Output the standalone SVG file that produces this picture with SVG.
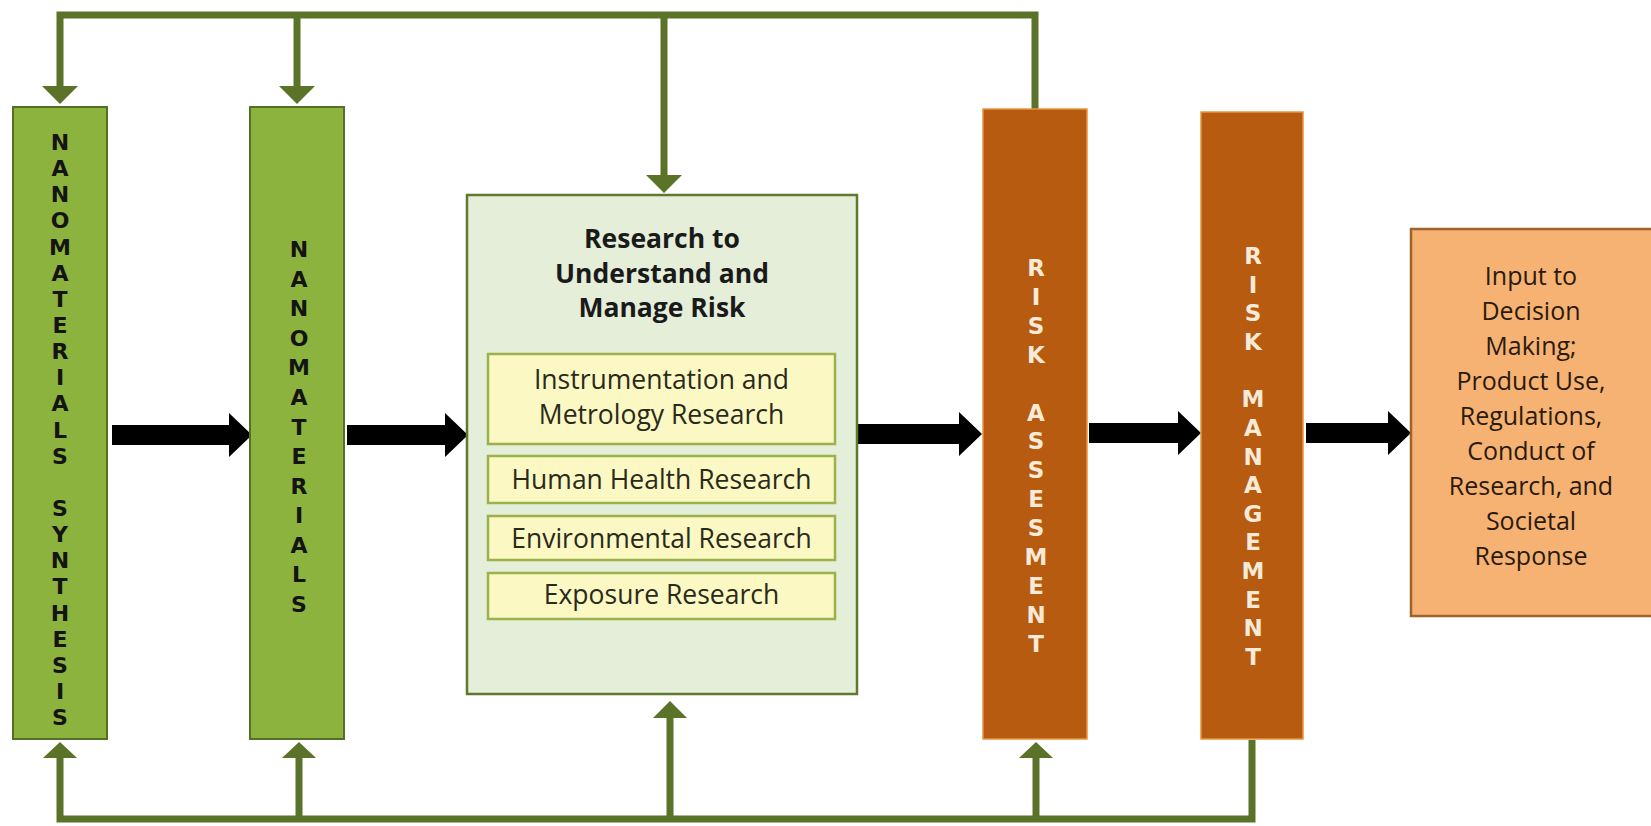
<svg xmlns="http://www.w3.org/2000/svg" width="1651" height="826" viewBox="0 0 1651 826">
<style>
.fb{fill:none;stroke:#5b7229;stroke-width:7;stroke-linejoin:miter}
.fbh{fill:#5b7229}
.blk{fill:#000}
.gbox{fill:#8cb33e;stroke:#556f26;stroke-width:2}
.gtxt{font-family:"DejaVu Sans",sans-serif;font-weight:bold;font-size:22px;fill:#141414;text-anchor:middle}
.obox{fill:#b65b0f;stroke:#e8943f;stroke-width:1.5}
.otxt{font-family:"DejaVu Sans",sans-serif;font-weight:bold;font-size:23px;fill:#f8ead8;text-anchor:middle}
.rbox{fill:#e4eed8;stroke:#5f7a30;stroke-width:2.5}
.sbox{fill:#fbf8c4;stroke:#9bb14b;stroke-width:2.5}
.title{font-family:"Open Sans",sans-serif;font-weight:bold;font-size:26.5px;fill:#1a1a1a;text-anchor:middle}
.sub{font-family:"Open Sans",sans-serif;font-size:26.5px;fill:#2a2a1a;text-anchor:middle}
.outbox{fill:#f5b273;stroke:#a0622a;stroke-width:2.5}
.outtxt{font-family:"Open Sans",sans-serif;font-size:25px;fill:#2b1a0c;text-anchor:middle}
</style>
<rect width="1651" height="826" fill="#ffffff"/>

<g id="connectors">
  <path class="fb" d="M60,88 V15 H1035 V109"/>
  <path class="fb" d="M297,15 V88"/>
  <path class="fb" d="M664,15 V177"/>
  <polygon class="fbh" points="42,86 78,86 60,104"/>
  <polygon class="fbh" points="279,86 315,86 297,104"/>
  <polygon class="fbh" points="646,175 682,175 664,193"/>
  <path class="fb" d="M60,756 V819 H1252 V740"/>
  <path class="fb" d="M299,819 V756"/>
  <path class="fb" d="M670,819 V716"/>
  <path class="fb" d="M1036,819 V756"/>
  <polygon class="fbh" points="43,758 77,758 60,742"/>
  <polygon class="fbh" points="282,758 316,758 299,742"/>
  <polygon class="fbh" points="653,718 687,718 670,701"/>
  <polygon class="fbh" points="1019,758 1053,758 1036,742"/>
  <polygon class="blk" points="112,425 229,425 229,413 252,435 229,457 229,445 112,445"/>
  <polygon class="blk" points="347,425 445,425 445,413 468,435 445,457 445,445 347,445"/>
  <polygon class="blk" points="858,424 959,424 959,412 982,434 959,456 959,444 858,444"/>
  <polygon class="blk" points="1089,423 1178,423 1178,411 1201,433 1178,455 1178,443 1089,443"/>
  <polygon class="blk" points="1306,423 1388,423 1388,411 1411,433 1388,455 1388,443 1306,443"/>
</g>

<g id="nanomaterials-synthesis">
  <rect class="gbox" x="13" y="107" width="94" height="632"/>
  <text class="gtxt"><tspan x="60" y="150">N</tspan><tspan x="60" y="176.1">A</tspan><tspan x="60" y="202.3">N</tspan><tspan x="60" y="228.4">O</tspan><tspan x="60" y="254.6">M</tspan><tspan x="60" y="280.7">A</tspan><tspan x="60" y="306.8">T</tspan><tspan x="60" y="333">E</tspan><tspan x="60" y="359.1">R</tspan><tspan x="60" y="385.3">I</tspan><tspan x="60" y="411.4">A</tspan><tspan x="60" y="437.5">L</tspan><tspan x="60" y="463.7">S</tspan><tspan x="60" y="516">S</tspan><tspan x="60" y="542.1">Y</tspan><tspan x="60" y="568.2">N</tspan><tspan x="60" y="594.4">T</tspan><tspan x="60" y="620.5">H</tspan><tspan x="60" y="646.7">E</tspan><tspan x="60" y="672.8">S</tspan><tspan x="60" y="698.9">I</tspan><tspan x="60" y="725">S</tspan></text>
</g>

<g id="nanomaterials">
  <rect class="gbox" x="250" y="107" width="94" height="632"/>
  <text class="gtxt"><tspan x="299" y="257">N</tspan><tspan x="299" y="286.6">A</tspan><tspan x="299" y="316.2">N</tspan><tspan x="299" y="345.7">O</tspan><tspan x="299" y="375.3">M</tspan><tspan x="299" y="404.9">A</tspan><tspan x="299" y="434.5">T</tspan><tspan x="299" y="464.1">E</tspan><tspan x="299" y="493.7">R</tspan><tspan x="299" y="523.2">I</tspan><tspan x="299" y="552.8">A</tspan><tspan x="299" y="582.4">L</tspan><tspan x="299" y="612">S</tspan></text>
</g>

<g id="research">
  <rect class="rbox" x="467" y="195" width="390" height="499"/>
  <text class="title"><tspan x="662" y="248">Research to</tspan><tspan x="662" y="283">Understand and</tspan><tspan x="662" y="317">Manage Risk</tspan></text>
  <g id="instrumentation">
    <rect class="sbox" x="488" y="354" width="347" height="90"/>
    <text class="sub"><tspan x="661.5" y="389">Instrumentation and</tspan><tspan x="661.5" y="424">Metrology Research</tspan></text>
  </g>
  <g id="human-health">
    <rect class="sbox" x="488" y="456" width="347" height="47"/>
    <text class="sub" x="661.5" y="489">Human Health Research</text>
  </g>
  <g id="environmental">
    <rect class="sbox" x="488" y="516" width="347" height="44"/>
    <text class="sub" x="661.5" y="548">Environmental Research</text>
  </g>
  <g id="exposure">
    <rect class="sbox" x="488" y="573" width="347" height="46"/>
    <text class="sub" x="661.5" y="604">Exposure Research</text>
  </g>
</g>

<g id="risk-assessment">
  <rect class="obox" x="983" y="109" width="104" height="630"/>
  <text class="otxt"><tspan x="1036" y="276">R</tspan><tspan x="1036" y="304.9">I</tspan><tspan x="1036" y="333.8">S</tspan><tspan x="1036" y="362.7">K</tspan><tspan x="1036" y="420.5">A</tspan><tspan x="1036" y="449.4">S</tspan><tspan x="1036" y="478.3">S</tspan><tspan x="1036" y="507.2">E</tspan><tspan x="1036" y="536.1">S</tspan><tspan x="1036" y="565">M</tspan><tspan x="1036" y="593.9">E</tspan><tspan x="1036" y="622.8">N</tspan><tspan x="1036" y="651.7">T</tspan></text>
</g>

<g id="risk-management">
  <rect class="obox" x="1201" y="112" width="102" height="627"/>
  <text class="otxt"><tspan x="1253" y="264">R</tspan><tspan x="1253" y="292.6">I</tspan><tspan x="1253" y="321.3">S</tspan><tspan x="1253" y="349.9">K</tspan><tspan x="1253" y="407.2">M</tspan><tspan x="1253" y="435.8">A</tspan><tspan x="1253" y="464.5">N</tspan><tspan x="1253" y="493.1">A</tspan><tspan x="1253" y="521.8">G</tspan><tspan x="1253" y="550.4">E</tspan><tspan x="1253" y="579">M</tspan><tspan x="1253" y="607.7">E</tspan><tspan x="1253" y="636.3">N</tspan><tspan x="1253" y="665">T</tspan></text>
</g>

<g id="decision-output">
  <rect class="outbox" x="1411" y="229" width="250" height="387"/>
  <text class="outtxt"><tspan x="1531" y="285">Input to</tspan><tspan x="1531" y="320">Decision</tspan><tspan x="1531" y="355">Making;</tspan><tspan x="1531" y="390">Product Use,</tspan><tspan x="1531" y="425">Regulations,</tspan><tspan x="1531" y="460">Conduct of</tspan><tspan x="1531" y="495">Research, and</tspan><tspan x="1531" y="530">Societal</tspan><tspan x="1531" y="565">Response</tspan></text>
</g>
</svg>
